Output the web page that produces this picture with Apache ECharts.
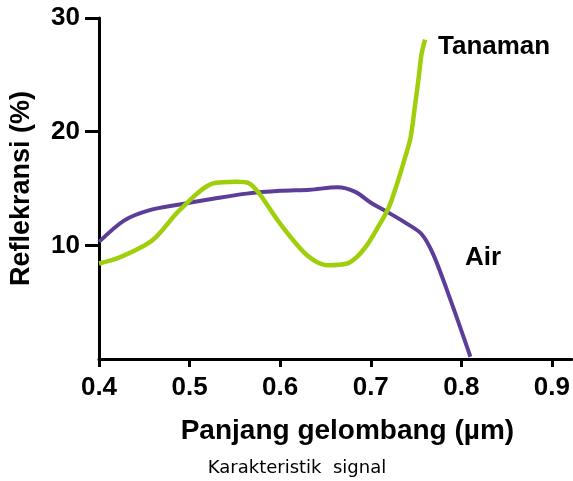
<!DOCTYPE html>
<html>
<head>
<meta charset="utf-8">
<script src="https://cdn.jsdelivr.net/npm/echarts@6/dist/echarts.min.js"></script>
<style>
  html, body { margin: 0; padding: 0; background: #fff; }
  #chart { width: 573px; height: 481px; }
</style>
</head>
<body>
<div id="chart"></div>
<script>
// panjang gelombang (um) dan reflektansi (%)
const airX = [0.4, 0.428, 0.456, 0.489, 0.526, 0.563, 0.6, 0.633, 0.663, 0.683, 0.701, 0.719, 0.738, 0.756, 0.769, 0.788, 0.81]
const airY = [10.3, 12.2, 13.1, 13.6, 14.1, 14.55, 14.8, 14.9, 15.1, 14.7, 13.7, 12.9, 12.0, 11.0, 9.2, 5.2, 0.2]

const tanamanX = [0.4, 0.423, 0.459, 0.489, 0.526, 0.552, 0.566, 0.577, 0.6, 0.63, 0.652, 0.674, 0.685, 0.697, 0.708, 0.72, 0.729, 0.738, 0.744, 0.749, 0.753, 0.756, 0.76]
const tanamanY = [8.4, 8.95, 10.45, 13.1, 15.45, 15.6, 15.45, 14.55, 11.9, 9.1, 8.25, 8.4, 9.0, 10.15, 11.6, 13.35, 15.4, 17.75, 19.5, 22.4, 24.8, 26.8, 28.1]

const yTicks = [10, 20, 30]

const font = 'Liberation Sans, Arial, sans-serif'

function pairs(xs, ys) {
  return xs.map((x, i) => [x, ys[i]])
}

const chart = echarts.init(document.getElementById('chart'))

chart.setOption({
  animation: false,
  grid: {
    left: 99,
    right: 1,
    top: 18,
    bottom: 122
  },
  xAxis: {
    type: 'value',
    min: 0.4,
    max: 0.922,
    interval: 0.1,
    name: 'Panjang gelombang (µm)',
    nameLocation: 'middle',
    nameGap: 58,
    nameTextStyle: {
      fontFamily: font,
      fontWeight: 'bold',
      fontSize: 28,
      color: '#000',
      padding: [0, 0, 0, 24]
    },
    axisLine: { lineStyle: { color: '#000', width: 3 } },
    axisTick: { length: 8, lineStyle: { color: '#000', width: 3 } },
    axisLabel: {
      margin: 16,
      fontFamily: font,
      fontWeight: 'bold',
      fontSize: 26,
      color: '#000',
      formatter: v => v.toFixed(1),
      showMaxLabel: false
    },
    splitLine: { show: false }
  },
  yAxis: {
    type: 'value',
    min: 0,
    max: 30,
    interval: 10,
    name: 'Reflekransi (%)',
    nameLocation: 'middle',
    nameGap: 64,
    nameTextStyle: {
      fontFamily: font,
      fontWeight: 'bold',
      fontSize: 27,
      color: '#000'
    },
    axisLine: { show: true, lineStyle: { color: '#000', width: 3 } },
    axisTick: {
      show: true,
      length: 14,
      customValues: yTicks,
      lineStyle: { color: '#000', width: 3 }
    },
    axisLabel: {
      margin: 19,
      customValues: yTicks,
      fontFamily: font,
      fontWeight: 'bold',
      fontSize: 26,
      color: '#000'
    },
    splitLine: { show: false }
  },
  graphic: [
    {
      type: 'text',
      left: 438,
      top: 34,
      style: { text: 'Tanaman', fill: '#000', font: 'bold 26px ' + font }
    },
    {
      type: 'text',
      left: 465,
      top: 245,
      style: { text: 'Air', fill: '#000', font: 'bold 26px ' + font }
    },
    {
      type: 'text',
      x: 297,
      y: 468,
      style: {
        text: 'Karakteristik  signal',
        fill: '#000',
        font: '18px DejaVu Sans, Verdana, sans-serif',
        align: 'center',
        verticalAlign: 'middle'
      }
    }
  ],
  series: [
    {
      name: 'Air',
      type: 'line',
      data: pairs(airX, airY),
      smooth: 0.3,
      showSymbol: false,
      lineStyle: { color: '#5c3d98', width: 4 }
    },
    {
      name: 'Tanaman',
      type: 'line',
      data: pairs(tanamanX, tanamanY),
      smooth: 0.3,
      showSymbol: false,
      lineStyle: { color: '#9fcf0a', width: 4.5 }
    }
  ]
})
</script>
</body>
</html>
